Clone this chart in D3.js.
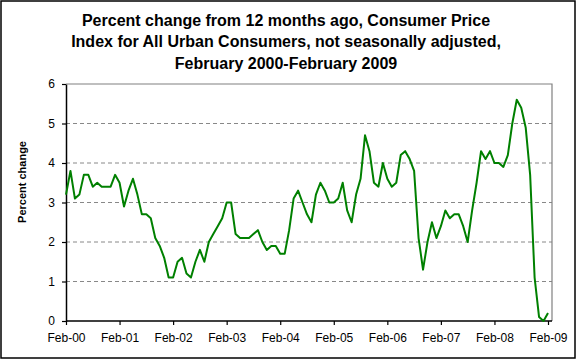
<!DOCTYPE html>
<html>
<head>
<meta charset="utf-8">
<script src="https://cdn.jsdelivr.net/npm/d3@7"></script>
<style>
  body { margin: 0; background: #fff; }
  svg { display: block; font-family: Arial, "Liberation Sans", sans-serif; }
</style>
</head>
<body>
<script>
// CPI-U, percent change from 12 months ago, Feb 2000 .. Feb 2009 (monthly)
const values = [
  3.2, 3.8, 3.1, 3.2, 3.7, 3.7, 3.4, 3.5, 3.4, 3.4, 3.4, 3.7,   // Feb-00 .. Jan-01
  3.5, 2.9, 3.3, 3.6, 3.2, 2.7, 2.7, 2.6, 2.1, 1.9, 1.6, 1.1,   // Feb-01 .. Jan-02
  1.1, 1.5, 1.6, 1.2, 1.1, 1.5, 1.8, 1.5, 2.0, 2.2, 2.4, 2.6,   // Feb-02 .. Jan-03
  3.0, 3.0, 2.2, 2.1, 2.1, 2.1, 2.2, 2.3, 2.0, 1.8, 1.9, 1.9,   // Feb-03 .. Jan-04
  1.7, 1.7, 2.3, 3.1, 3.3, 3.0, 2.7, 2.5, 3.2, 3.5, 3.3, 3.0,   // Feb-04 .. Jan-05
  3.0, 3.1, 3.5, 2.8, 2.5, 3.2, 3.6, 4.7, 4.3, 3.5, 3.4, 4.0,   // Feb-05 .. Jan-06
  3.6, 3.4, 3.5, 4.2, 4.3, 4.1, 3.8, 2.1, 1.3, 2.0, 2.5, 2.1,   // Feb-06 .. Jan-07
  2.4, 2.8, 2.6, 2.7, 2.7, 2.4, 2.0, 2.8, 3.5, 4.3, 4.1, 4.3,   // Feb-07 .. Jan-08
  4.0, 4.0, 3.9, 4.2, 5.0, 5.6, 5.4, 4.9, 3.7, 1.1, 0.1, 0.0,   // Feb-08 .. Jan-09
  0.2                                                            // Feb-09
];
const tickLabels = ['Feb-00', 'Feb-01', 'Feb-02', 'Feb-03', 'Feb-04', 'Feb-05', 'Feb-06', 'Feb-07', 'Feb-08', 'Feb-09'];
const yTicks = [0, 1, 2, 3, 4, 5, 6];
const titleLines = [
  'Percent change from 12 months ago, Consumer Price',
  'Index for All Urban Consumers, not seasonally adjusted,',
  'February 2000-February 2009'
];

const width = 580;
const height = 360;
const plotLeft = 66, plotTop = 84, plotRight = 552, plotBottom = 321;

const svg = d3.select('body').append('svg')
  .attr('width', width)
  .attr('height', height);

// outer chart border
svg.append('rect')
  .attr('x', 1).attr('y', 1)
  .attr('width', 574).attr('height', 357)
  .attr('fill', '#fff')
  .attr('stroke', '#000')
  .attr('stroke-width', 1.5);

const x = d3.scaleLinear().domain([0, values.length - 1]).range([plotLeft, 548]);
const y = d3.scaleLinear().domain([0, 6]).range([plotBottom, plotTop]);

// title
svg.append('g').selectAll('text')
  .data(titleLines)
  .join('text')
  .attr('x', 286)
  .attr('y', (d, i) => 26 + i * 21.3)
  .attr('text-anchor', 'middle')
  .style('font-size', '16px')
  .style('font-weight', 'bold')
  .text((d) => d);

// gridlines
svg.append('g').selectAll('line')
  .data(yTicks.filter((d) => d > 0 && d < 6))
  .join('line')
  .attr('x1', plotLeft).attr('x2', plotRight)
  .attr('y1', (d) => y(d)).attr('y2', (d) => y(d))
  .attr('stroke', '#888')
  .attr('stroke-dasharray', '4,3');

// plot area border (top / right)
svg.append('path')
  .attr('d', `M${plotLeft},${plotTop}H${plotRight}V${plotBottom}`)
  .attr('fill', 'none')
  .attr('stroke', '#808080')
  .attr('stroke-width', 1.2);

// y axis
const yAxis = svg.append('g')
  .attr('transform', `translate(${plotLeft},0)`)
  .call(d3.axisLeft(y).tickValues(yTicks).tickFormat(d3.format('d'))
    .tickSize(4).tickPadding(7).tickSizeOuter(0));
yAxis.select('.domain').attr('stroke', '#000').attr('stroke-width', 1.5);
yAxis.selectAll('.tick line').attr('stroke', '#000').attr('stroke-width', 1.2);
yAxis.selectAll('text').style('font-size', '12px').attr('fill', '#000');

// x axis
const xAxis = svg.append('g')
  .attr('transform', `translate(0,${plotBottom})`)
  .call(d3.axisBottom(x)
    .tickValues(tickLabels.map((d, i) => i * 12))
    .tickFormat((d) => tickLabels[d / 12])
    .tickSize(4).tickPadding(8).tickSizeOuter(0));
xAxis.select('.domain').attr('d', `M${plotLeft},0H${plotRight}`).attr('stroke', '#000').attr('stroke-width', 1.5);
xAxis.selectAll('.tick line').attr('stroke', '#000').attr('stroke-width', 1.2);
xAxis.selectAll('text').style('font-size', '12px').attr('fill', '#000');

// y axis title
svg.append('text')
  .attr('transform', 'translate(26,182) rotate(-90)')
  .attr('text-anchor', 'middle')
  .style('font-size', '11px')
  .style('font-weight', 'bold')
  .text('Percent change');

// the series
const line = d3.line()
  .x((d, i) => x(i))
  .y((d) => y(d));

svg.append('path')
  .datum(values)
  .attr('d', line)
  .attr('fill', 'none')
  .attr('stroke', '#008000')
  .attr('stroke-width', 2)
  .attr('stroke-linejoin', 'round');
</script>
</body>
</html>
